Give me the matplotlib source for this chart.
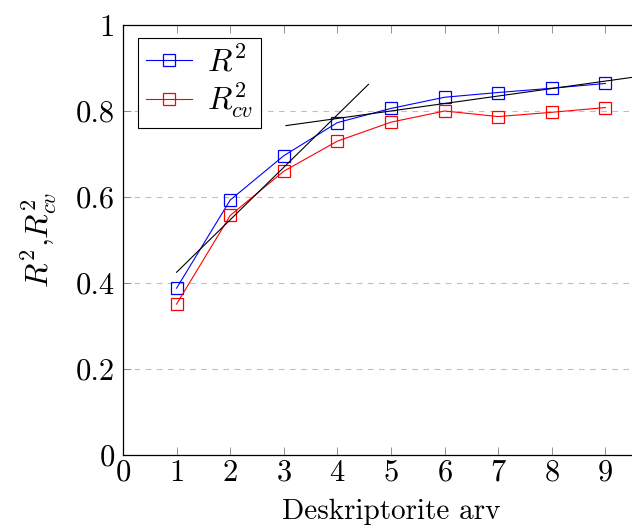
import matplotlib.pyplot as plt

plt.rcParams['font.family'] = 'serif'
plt.rcParams['font.serif'] = ['cmr10']
plt.rcParams['mathtext.fontset'] = 'cm'
plt.rcParams['axes.formatter.use_mathtext'] = True

# Data
n_desc = [1, 2, 3, 4, 5, 6, 7, 8, 9]
r2 = [0.388, 0.593, 0.696, 0.773, 0.806, 0.832, 0.843, 0.853, 0.864]
r2_cv = [0.351, 0.557, 0.660, 0.730, 0.774, 0.800, 0.787, 0.797, 0.808]

# tangent lines
tan1_x = [1.0, 4.58]
tan1_y = [0.425, 0.862]
tan2_x = [3.04, 9.6]
tan2_y = [0.766, 0.880]

fig = plt.figure(figsize=(6.32, 5.32), dpi=100)
ax = fig.add_axes([123 / 632, 77 / 532, 536 / 632, 430 / 532])

ax.plot(n_desc, r2, color='blue', marker='s', markerfacecolor='none',
        markersize=8, linewidth=0.8, markeredgewidth=0.9, label='$R^2$')
ax.plot(n_desc, r2_cv, color='red', marker='s', markerfacecolor='none',
        markersize=8, linewidth=0.8, markeredgewidth=0.9, label='$R^2_{cv}$')
ax.plot(tan1_x, tan1_y, color='black', linewidth=0.8)
ax.plot(tan2_x, tan2_y, color='black', linewidth=0.8)

ax.set_xlim(0, 10)
ax.set_ylim(0, 1)
ax.set_xticks(range(0, 10))
ax.set_yticks([0, 0.2, 0.4, 0.6, 0.8, 1])
ax.set_yticklabels(['0', '0.2', '0.4', '0.6', '0.8', '1'])
ax.yaxis.grid(True, linestyle=(0, (5, 5)), color='#c0c0c0', linewidth=0.8)
ax.set_axisbelow(True)

ax.tick_params(axis='both', direction='in', labelsize=22, length=6,
               width=0.6, color='#808080', top=True, right=False)
ax.tick_params(axis='x', pad=3)
ax.tick_params(axis='y', pad=6)
ax.spines['right'].set_visible(False)
for s in ['left', 'bottom', 'top']:
    ax.spines[s].set_linewidth(0.9)

ax.set_xlabel('Deskriptorite arv', fontsize=21, labelpad=9)
ax.set_ylabel('$R^2$,$R^2_{cv}$', fontsize=23, labelpad=12)

leg = ax.legend(loc='upper left', fontsize=23, fancybox=False, edgecolor='black',
                framealpha=1, bbox_to_anchor=(0.028, 0.97), borderaxespad=0,
                handlelength=1.45, handletextpad=0.45, borderpad=0.25,
                labelspacing=0.1)
leg.get_frame().set_linewidth(0.8)

plt.savefig('out.png', dpi=100)
